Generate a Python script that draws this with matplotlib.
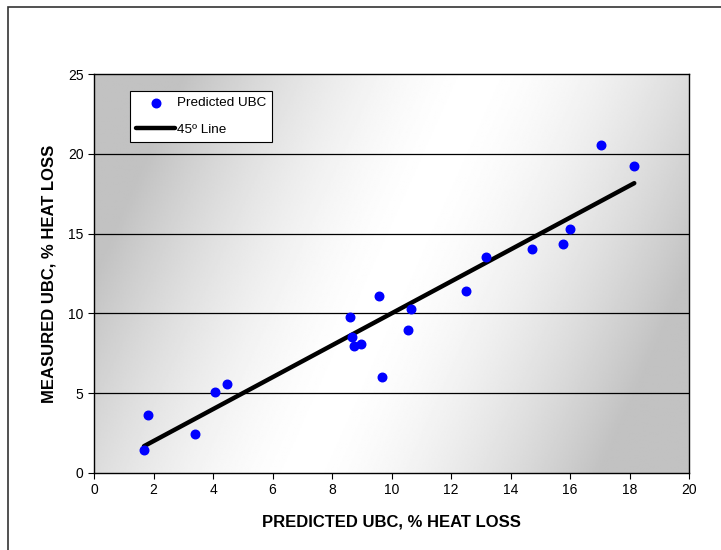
import numpy as np
import matplotlib.pyplot as plt
from matplotlib.patches import Rectangle

plt.rcParams["font.family"] = ["Liberation Sans", "DejaVu Sans"]

# predicted vs measured UBC, % heat loss
predicted = [1.68, 1.82, 3.41, 4.07, 4.46, 8.62, 8.66, 8.74, 8.97, 9.58,
             9.67, 10.55, 10.64, 12.50, 13.18, 14.71, 15.78, 16.00, 17.04, 18.16]
measured = [1.46, 3.61, 2.46, 5.08, 5.58, 9.77, 8.50, 7.98, 8.06, 11.09,
            6.00, 8.96, 10.27, 11.40, 13.53, 14.05, 14.37, 15.29, 20.55, 19.26]

x_ticks = [0, 2, 4, 6, 8, 10, 12, 14, 16, 18, 20]
y_ticks = [0, 5, 10, 15, 20, 25]


def background(ax):
    xn, yn = np.meshgrid(np.linspace(0, 1, 400), np.linspace(1, 0, 300))
    t = xn - 0.3 * (yn - 0.5)
    shade = 1 - 0.24 * np.clip(np.abs(2 * (t - 0.5)), 0, 1) ** 1.6
    ax.imshow(shade, cmap="gray", vmin=0, vmax=1, extent=(0, 20, 0, 25),
              aspect="auto", zorder=0, interpolation="bilinear")


fig = plt.figure(figsize=(7.21, 5.5), dpi=100)
ax = fig.add_axes([94 / 721, 77 / 550, 595 / 721, 399 / 550])

background(ax)
for y in y_ticks[1:-1]:
    ax.axhline(y, color="black", linewidth=0.9, zorder=1)

line_x = [min(predicted), max(predicted)]
ax.plot(line_x, line_x, color="black", linewidth=3.2, solid_capstyle="round",
        zorder=2, label="45º Line")
ax.scatter(predicted, measured, s=38, color="#0000FF", zorder=3,
           label="Predicted UBC")

ax.set_xlim(0, 20)
ax.set_ylim(0, 25)
ax.set_xticks(x_ticks)
ax.set_yticks(y_ticks)
ax.tick_params(labelsize=10, length=4, width=0.8, direction="out")
for s in ax.spines.values():
    s.set_linewidth(1.0)

ax.set_xlabel("PREDICTED UBC, % HEAT LOSS", fontsize=12, fontweight="bold",
              labelpad=12)
ax.set_ylabel("MEASURED UBC, % HEAT LOSS", fontsize=12, fontweight="bold",
              labelpad=8)

handles, labels = ax.get_legend_handles_labels()
leg = ax.legend(handles[::-1], labels[::-1], loc="upper left",
                bbox_to_anchor=(36 / 595, 382 / 399), borderaxespad=0,
                fontsize=9.7, frameon=True, fancybox=False, framealpha=1,
                edgecolor="black", handlelength=2.9, handletextpad=0.15,
                borderpad=0.45, labelspacing=1.05)
leg.get_frame().set_linewidth(0.8)

fig.patches.append(Rectangle((8 / 721, -0.1), 2, 543 / 550 + 0.1,
                             transform=fig.transFigure, fill=False,
                             edgecolor="#333333", linewidth=1.2))

fig.savefig("out.png", dpi=100)
